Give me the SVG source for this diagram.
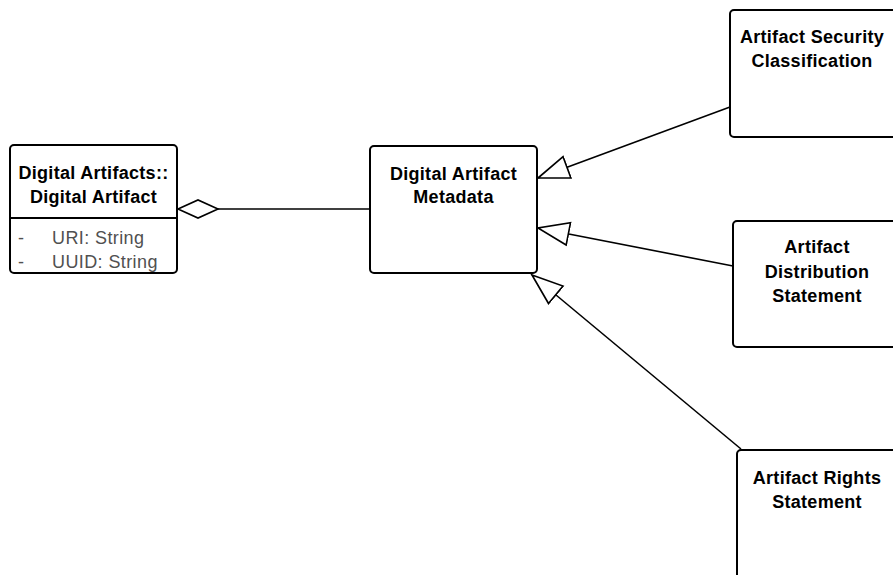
<svg xmlns="http://www.w3.org/2000/svg" width="893" height="575" viewBox="0 0 893 575">
  <style>
    .box { fill: #ffffff; stroke: #000000; stroke-width: 2; }
    .div { stroke: #000000; stroke-width: 2; }
    .name { font-family: "Liberation Sans", Arial, sans-serif; font-size: 18px; font-weight: bold; fill: #000000; text-anchor: middle; letter-spacing: 0.3px; }
    .attr { font-family: "Liberation Sans", Arial, sans-serif; font-size: 18px; fill: #505050; letter-spacing: 0.4px; }
    .link { fill: none; stroke: #000000; stroke-width: 1.6; }
  </style>
  <defs>
    <marker id="gen" markerUnits="userSpaceOnUse" markerWidth="34" markerHeight="26" viewBox="-1 -12 33 24" refX="30" refY="0" orient="auto">
      <path d="M0,-11 L30,0 L0,11 Z" fill="#ffffff" stroke="#000000" stroke-width="1.6"/>
    </marker>
    <marker id="agg" markerUnits="userSpaceOnUse" markerWidth="44" markerHeight="22" viewBox="-2 -11 44 22" refX="0" refY="0" orient="auto">
      <path d="M0,0 L20,-9 L40,0 L20,9 Z" fill="#ffffff" stroke="#000000" stroke-width="1.6"/>
    </marker>
  </defs>

  <g id="connectors">
    <!-- aggregation: Digital Artifact holds its metadata -->
    <line class="link" x1="178" y1="209" x2="370" y2="209" marker-start="url(#agg)"/>
    <!-- generalizations toward Digital Artifact Metadata -->
    <line class="link" x1="730" y1="107" x2="538" y2="178" marker-end="url(#gen)"/>
    <line class="link" x1="733" y1="266" x2="538" y2="228" marker-end="url(#gen)"/>
    <line class="link" x1="741" y1="449" x2="532" y2="275" marker-end="url(#gen)"/>
  </g>

  <g id="digital-artifact">
    <rect class="box" x="10" y="145" width="167" height="128" rx="4"/>
    <line class="div" x1="10" y1="218" x2="177" y2="218"/>
    <text class="name" x="93.5" y="179">Digital Artifacts::</text>
    <text class="name" x="93.5" y="203">Digital Artifact</text>
    <text class="attr" x="18" y="244">-</text>
    <text class="attr" x="52" y="244">URI: String</text>
    <text class="attr" x="18" y="268">-</text>
    <text class="attr" x="52" y="268">UUID: String</text>
  </g>

  <g id="digital-artifact-metadata">
    <rect class="box" x="370" y="146" width="167" height="127" rx="4"/>
    <text class="name" x="453.5" y="180">Digital Artifact</text>
    <text class="name" x="453.5" y="203">Metadata</text>
  </g>

  <g id="artifact-security-classification">
    <rect class="box" x="730" y="10" width="167" height="127" rx="4"/>
    <text class="name" x="812" y="43">Artifact Security</text>
    <text class="name" x="812" y="67">Classification</text>
  </g>

  <g id="artifact-distribution-statement">
    <rect class="box" x="733" y="221" width="167" height="126" rx="4"/>
    <text class="name" x="817" y="253">Artifact</text>
    <text class="name" x="817" y="278">Distribution</text>
    <text class="name" x="817" y="302">Statement</text>
  </g>

  <g id="artifact-rights-statement">
    <rect class="box" x="737" y="450" width="167" height="140" rx="4"/>
    <text class="name" x="817" y="484">Artifact Rights</text>
    <text class="name" x="817" y="508">Statement</text>
  </g>
</svg>
